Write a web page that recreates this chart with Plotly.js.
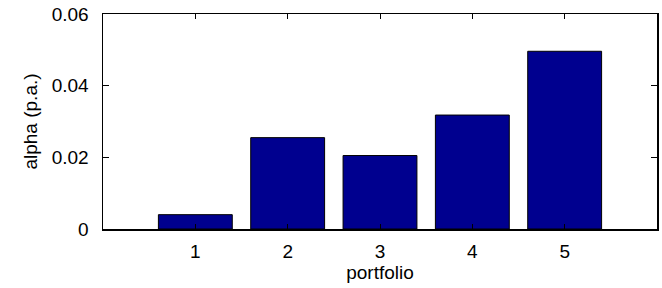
<!DOCTYPE html>
<html>
<head>
<meta charset="utf-8">
<script src="https://cdn.plot.ly/plotly-3.0.1.min.js"></script>
<style>html,body{margin:0;padding:0;background:#fff;}#chart{width:662px;height:288px;}</style>
</head>
<body>
<div id="chart"></div>
<script>
var portfolios = [1, 2, 3, 4, 5];
var alphaValues = [0.0040, 0.0255, 0.0205, 0.0318, 0.0496];
var xTickVals = [1, 2, 3, 4, 5];
var xTickText = ['1', '2', '3', '4', '5'];
var yTickVals = [0, 0.02, 0.04, 0.06];
var yTickText = ['0', '0.02', '0.04', '0.06'];

var trace = {
  type: 'bar',
  x: portfolios,
  y: alphaValues,
  width: 0.8,
  marker: {color: 'rgb(0,0,143)', line: {color: '#000', width: 1}},
  hoverinfo: 'none'
};

var font = {family: 'Liberation Sans, Arial, sans-serif', size: 19, color: '#000'};

var layout = {
  width: 662, height: 288,
  margin: {l: 103, r: 5, t: 14, b: 58.5, pad: 0},
  paper_bgcolor: '#fff', plot_bgcolor: '#fff',
  showlegend: false,
  font: font,
  xaxis: {
    range: [0, 6], tickvals: xTickVals, ticktext: xTickText,
    ticks: 'inside', ticklen: 5, tickwidth: 1, tickcolor: '#000',
    showline: true, linecolor: '#000', linewidth: 1.5, mirror: 'ticks',
    showgrid: false, zeroline: false, fixedrange: true,
    tickfont: font, ticklabelstandoff: 5,
    title: {text: 'portfolio', font: font, standoff: 4}
  },
  yaxis: {
    range: [0, 0.06], tickvals: yTickVals, ticktext: yTickText,
    ticks: 'inside', ticklen: 6, tickwidth: 1, tickcolor: '#000',
    showline: true, linecolor: '#000', linewidth: 1.5, mirror: 'ticks',
    showgrid: false, zeroline: false, fixedrange: true,
    tickfont: font, ticklabelstandoff: 9,
    title: {text: 'alpha (p.a.)', font: font, standoff: 9}
  }
};

Plotly.newPlot('chart', [trace], layout, {displayModeBar: false, staticPlot: true});
</script>
</body>
</html>
